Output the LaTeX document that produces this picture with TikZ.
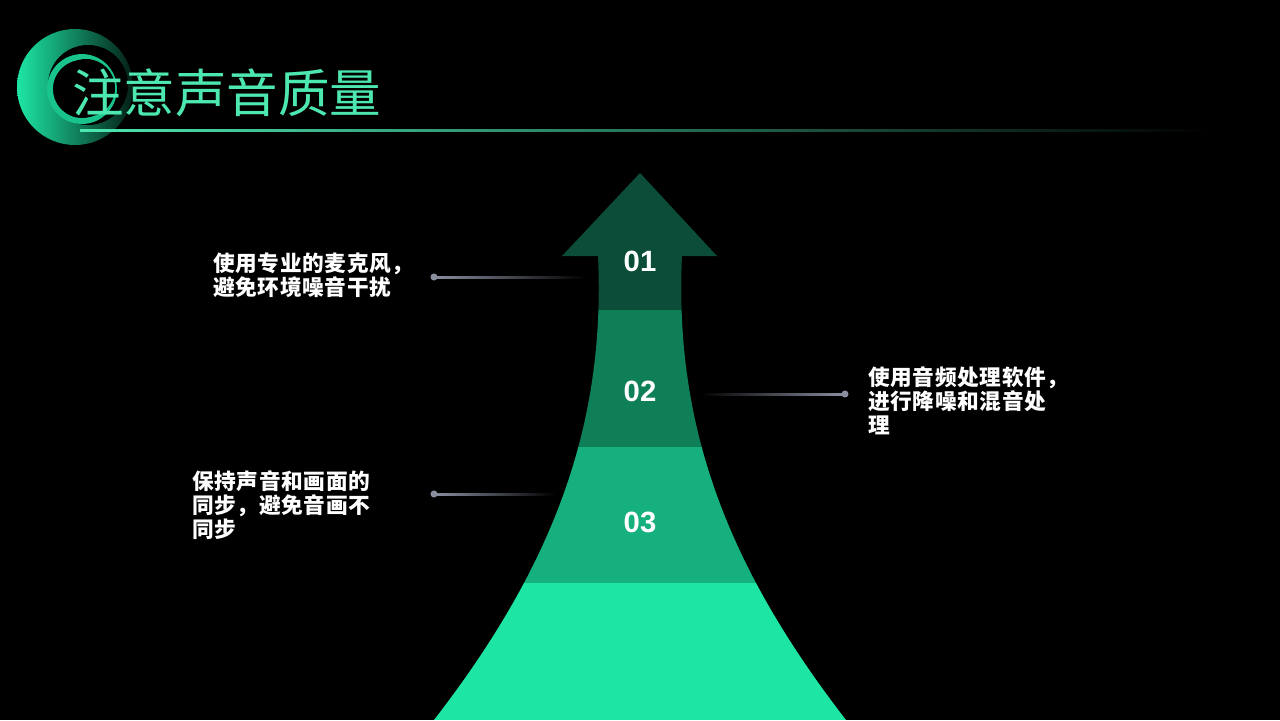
\documentclass[tikz,border=0pt]{standalone}
\usepackage{fontspec}
\setsansfont{Liberation Sans}
\newfontfamily\cjk{Noto Sans CJK SC}
\newfontfamily\cjknote[LetterSpace=3]{Noto Sans CJK SC}
\usetikzlibrary{positioning}
\definecolor{bandA}{HTML}{0B4D38}
\definecolor{bandB}{HTML}{0F7F58}
\definecolor{bandC}{HTML}{15B07D}
\definecolor{bandD}{HTML}{1DE6A5}
\definecolor{titlegreen}{HTML}{4DE8B0}
\definecolor{leadgray}{HTML}{8A8FA0}
\tikzset{
  note/.style={text=white,font=\cjknote\bfseries\fontsize{18.5}{20.5}\selectfont,align=left,inner sep=0pt,anchor=north west},
  num/.style={text=white,font=\sffamily\bfseries\fontsize{25}{25}\selectfont},
  dot/.style={circle,fill=leadgray,inner sep=0pt,minimum size=6pt}
}
\begin{document}
\begin{tikzpicture}[x=0.03cm,y=-0.03cm]
   \fill[black] (0,0) rectangle (1280,720);
   \useasboundingbox (0,0) rectangle (1280,720);
   % logo
   \shade[left color=bandD,right color=bandA!40!black] (75,87) circle (58);
   \fill[black] (88,85) circle (40);
   \draw[bandD!85!black,line width=5pt] (82,89) circle (32);
   \fill[black] (86,88) circle (29);
   % title
   \node[anchor=west,text=titlegreen,font=\cjk\fontsize{44}{44}\selectfont,inner sep=0pt] (title) at (72,93) {注意声音质量};
   \shade[left color=titlegreen,right color=black] (80,129) rectangle (1210,131);
   % arrow
   \begin{scope}
     \clip (640,173) -- (717,256) -- (682,256)
       .. controls (674,430) and (730,570) .. (846,720) -- (434,720)
       .. controls (550,570) and (606,430) .. (598,256) -- (562,256) -- cycle;
     \fill[bandA] (400,170) rectangle (900,310);
     \fill[bandB] (400,310) rectangle (900,447);
     \fill[bandC] (400,447) rectangle (900,583);
     \fill[bandD] (400,583) rectangle (900,720);
   \end{scope}
   \node[num] (n1) at (640,261) {01};
   \node[num] (n2) at (640,391) {02};
   \node[num] (n3) at (640,522) {03};
   % leaders
   \node[dot] (d1) at (434,277) {};
   \coordinate (e1) at (585,277);
   \node[dot] (d2) at (845,394) {};
   \coordinate (e2) at (700,394);
   \node[dot] (d3) at (434,494) {};
   \coordinate (e3) at (555,494);
   \shade[left color=leadgray,right color=black] (434,276) rectangle (585,278);
   \shade[left color=black,right color=leadgray] (700,393) rectangle (845,395);
   \shade[left color=leadgray,right color=black] (434,493) rectangle (555,495);
   % notes
   \node[note] (t1) at (213,253) {使用专业的麦克风，\\避免环境噪音干扰};
   \node[note] (t2) at (868,366) {使用音频处理软件，\\进行降噪和混音处\\理};
   \node[note] (t3) at (192,470) {保持声音和画面的\\同步，避免音画不\\同步};
\end{tikzpicture}
\end{document}
